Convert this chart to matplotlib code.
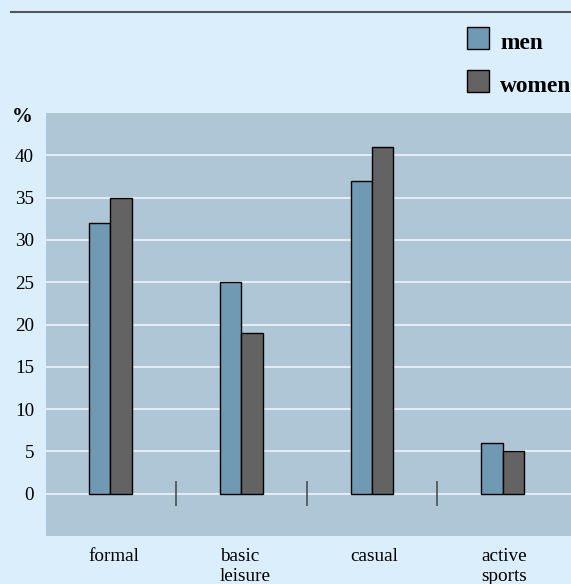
import matplotlib.pyplot as plt
from matplotlib.lines import Line2D
from matplotlib.patches import Rectangle
from matplotlib import transforms

categories = ["formal", "basic\nleisure", "casual", "active\nsports"]
men = [32, 25, 37, 6]
women = [35, 19, 41, 5]
y_ticks = [0, 5, 10, 15, 20, 25, 30, 35, 40]

W, H = 571, 584
BG = "#dbeefc"
PLOT_BG = "#afc6d6"
MEN_COLOR = "#7099b3"
WOMEN_COLOR = "#636363"

plt.rcParams["font.family"] = ["Liberation Serif", "DejaVu Serif"]


def fx(px):
    return px / W


def fy(py):
    return 1 - py / H


fig = plt.figure(figsize=(W / 100, H / 100), dpi=100, facecolor=BG)
ax = fig.add_axes([fx(46), fy(536), fx(571 - 46), (536 - 113) / H])
ax.set_facecolor(PLOT_BG)

bar_w = 0.164
xs = list(range(len(categories)))
ax.bar([x - bar_w for x in xs], men, width=bar_w, align="edge",
       color=MEN_COLOR, edgecolor="black", linewidth=1.0, zorder=3)
ax.bar(xs, women, width=bar_w, align="edge",
       color=WOMEN_COLOR, edgecolor="black", linewidth=1.0, zorder=3)

# short dividers between the category groups
ax.vlines([x + 0.5 for x in xs[:-1]], -1.5, 1.5, color="#4a4f55", linewidth=1.2, zorder=2)

ax.set_xlim(-0.49, 3.52)
ax.set_ylim(-5, 45)
ax.set_yticks(y_ticks)
ax.set_xticks([])
ax.tick_params(axis="y", length=0, pad=8.6, labelsize=13.8)
ax.yaxis.grid(True, color="#e4eef6", linewidth=1.4)
ax.set_axisbelow(True)
for s in ax.spines.values():
    s.set_visible(False)

# category labels sit left-aligned under each group
trans = transforms.blended_transform_factory(ax.transData, ax.transAxes)
for x, label in zip(xs, categories):
    ax.text(x - bar_w, -12 / 423, label, transform=trans, ha="left", va="top",
            fontsize=13.8, linespacing=1.22)

fig.text(fx(12), fy(122), "%", fontsize=15, fontweight="bold", va="baseline", ha="left")

# rule across the top
fig.add_artist(Line2D([fx(11), 1], [fy(12), fy(12)], color="#50565e", linewidth=1.5,
                      transform=fig.transFigure))

# legend
for top, color, label in [(27, MEN_COLOR, "men"), (70, WOMEN_COLOR, "women")]:
    fig.add_artist(Rectangle((fx(467), fy(top + 22)), fx(22), 22 / H, facecolor=color,
                             edgecolor="black", linewidth=1.0, transform=fig.transFigure))
    fig.text(fx(500), fy(top + 22), label, fontsize=16.8, fontweight="bold",
             va="baseline", ha="left")

fig.savefig("out.png", dpi=100, facecolor=BG)
